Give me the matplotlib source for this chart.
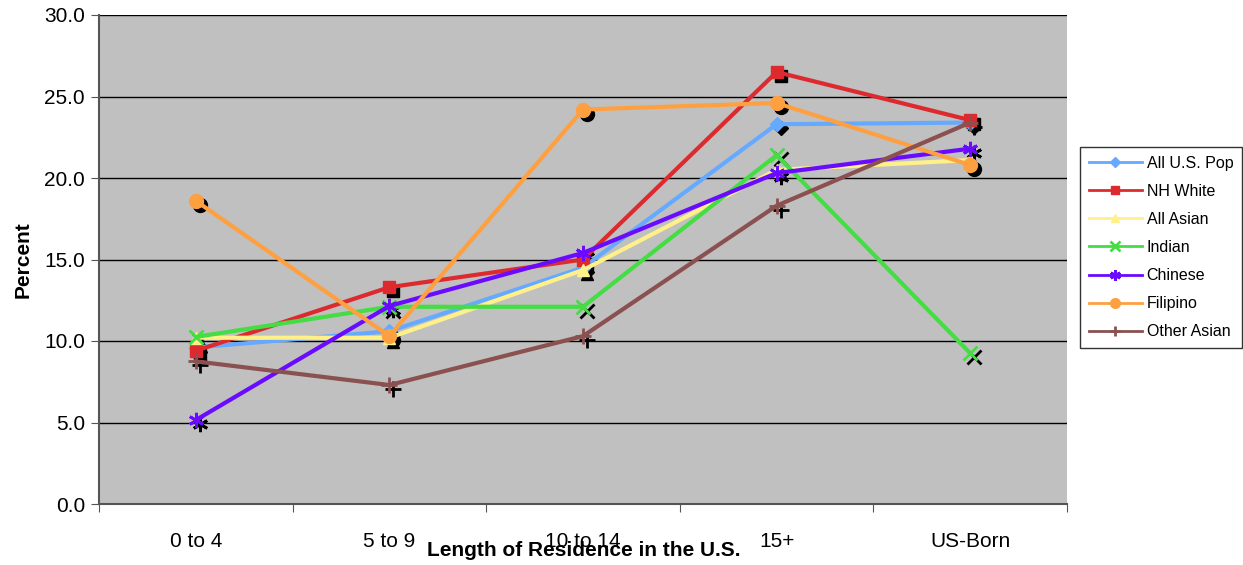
import matplotlib
matplotlib.use("Agg")
import matplotlib.pyplot as plt
import matplotlib.transforms as mtransforms
import numpy as np

categories = ["0 to 4", "5 to 9", "10 to 14", "15+", "US-Born"]
all_us = [9.6, 10.6, 14.5, 23.3, 23.4]
nh_white = [9.4, 13.3, 15.0, 26.5, 23.55]
all_asian = [10.2, 10.2, 14.35, 20.5, 21.1]
indian = [10.25, 12.1, 12.1, 21.4, 9.25]
chinese = [5.15, 12.15, 15.4, 20.3, 21.8]
filipino = [18.6, 10.3, 24.2, 24.6, 20.8]
other_asian = [8.75, 7.3, 10.3, 18.3, 23.4]

series = [
    ("All U.S. Pop", all_us, "#66AAFF", "D", 7),
    ("NH White", nh_white, "#DD2A2E", "s", 9),
    ("All Asian", all_asian, "#FFF089", "^", 9),
    ("Indian", indian, "#44DD44", "x", 10),
    ("Chinese", chinese, "#6A0AFF", (6, 2, 0), 11),
    ("Filipino", filipino, "#FFA040", "o", 10),
    ("Other Asian", other_asian, "#8B5050", "+", 11),
]

plt.rcParams['font.family'] = ['Liberation Sans', 'DejaVu Sans']
fig = plt.figure(figsize=(12.43, 5.65), dpi=100)
ax = fig.add_axes([99/1243, 61/565, 968/1243, 489/565])
ax.set_facecolor("#C0C0C0")

x = np.arange(len(categories)) + 0.5
shadow = mtransforms.offset_copy(ax.transData, fig=fig, x=4, y=-4, units='dots')

handles = []
for name, vals, col, mk, ms in series:
    mew = 2 if mk in ("x", "+") or isinstance(mk, tuple) else 1
    ax.plot(x, vals, linestyle='none', marker=mk, markersize=ms, color='black',
            markeredgecolor='black', markeredgewidth=mew, transform=shadow, zorder=2)
for name, vals, col, mk, ms in series:
    mew = 2 if mk in ("x", "+") or isinstance(mk, tuple) else 1
    h, = ax.plot(x, vals, color=col, linewidth=3, marker=mk, markersize=ms,
                 markerfacecolor=col, markeredgecolor=col, markeredgewidth=mew,
                 label=name, zorder=3)
    handles.append(h)

ax.set_xlim(0, 5)
ax.set_ylim(0, 30)
ax.set_yticks(np.arange(0, 30.1, 5))
ax.set_yticklabels([f"{v:.1f}" for v in np.arange(0, 30.1, 5)], fontsize=15)
ax.yaxis.grid(True, color='black', linewidth=1)
ax.set_axisbelow(True)
ax.set_xticks(np.arange(0, 5.1, 1))
ax.set_xticklabels([])
ax.set_xticks(x, minor=True)
ax.set_xticklabels(categories, minor=True, fontsize=15)
ax.tick_params(axis='x', which='minor', length=0, pad=20)
ax.tick_params(axis='x', which='major', length=6, direction='out', color='#555555')
ax.tick_params(axis='y', length=6, direction='out', color='#555555', pad=4)
for s in ["top", "right"]:
    ax.spines[s].set_visible(False)
ax.spines['left'].set_color('#555555')
ax.spines['bottom'].set_color('#555555')
ax.spines['left'].set_linewidth(1.5)
ax.spines['bottom'].set_linewidth(1.5)

ax.set_ylabel("Percent", fontsize=15, fontweight='bold', labelpad=8)
fig.text(584/1243, 1 - 550/565, "Length of Residence in the U.S.", fontsize=15,
         fontweight='bold', ha='center', va='center')

leg = fig.legend(handles=handles, loc='upper right', bbox_to_anchor=(1242/1243, 1 - 147/565),
                 fontsize=11.5, frameon=True, fancybox=False, edgecolor='black',
                 handlelength=3.3, handletextpad=0.3, labelspacing=0.82, borderpad=0.55,
                 borderaxespad=0, markerscale=0.7)
leg.get_frame().set_linewidth(1)
for lh in leg.get_lines():
    lh.set_linewidth(2)

fig.savefig("out.png", dpi=100)
